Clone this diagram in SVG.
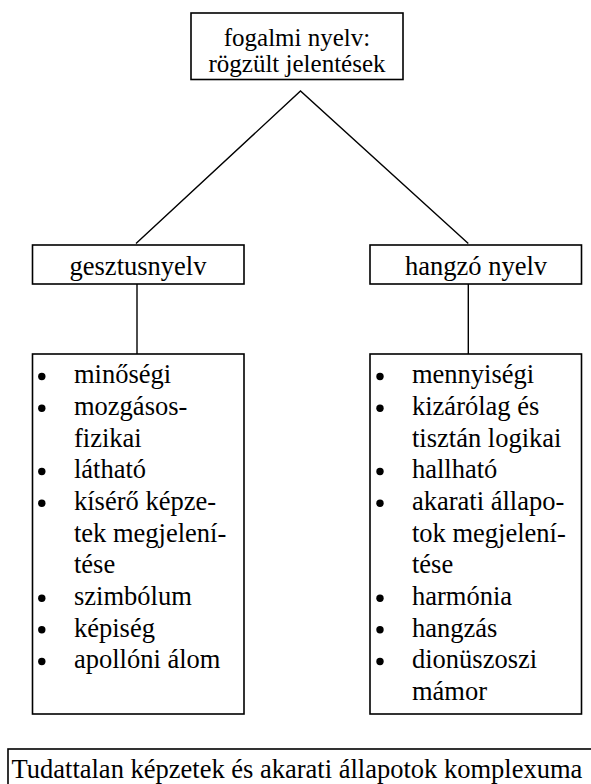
<svg xmlns="http://www.w3.org/2000/svg" width="591" height="784" viewBox="0 0 591 784">
<style>
.box{fill:#fff;stroke:#000;stroke-width:1.6}
.ln{fill:none;stroke:#000;stroke-width:1.4}
.b{fill:#000}
.t{font-family:"Liberation Serif","Times New Roman",serif;font-size:26.5px;fill:#000}
</style>
<rect width="591" height="784" fill="#fff"/>
<g id="connectors">
<polyline class="ln" points="136,243.5 300.5,91 468.3,243.5"/>
<line class="ln" x1="137" y1="284" x2="137" y2="354"/>
<line class="ln" x1="468.3" y1="284" x2="468.3" y2="354"/>
</g>
<g class="t">
<g id="top">
<rect class="box" x="191" y="13" width="212" height="66.5"/>
<text text-anchor="middle" x="297" y="46" font-size="25">fogalmi nyelv:</text>
<text text-anchor="middle" x="297" y="72" font-size="25">rögzült jelentések</text>
</g>
<g id="gesztusnyelv">
<rect class="box" x="32.5" y="245" width="211.5" height="39"/>
<text text-anchor="middle" x="138" y="275">gesztusnyelv</text>
</g>
<g id="hangzo">
<rect class="box" x="370" y="245" width="211.5" height="39"/>
<text text-anchor="middle" x="476" y="275">hangzó nyelv</text>
</g>
<g id="list-left">
<rect class="box" x="32.5" y="354" width="211.5" height="360"/>
<circle class="b" cx="41.8" cy="376.5" r="3.7"/>
<circle class="b" cx="41.8" cy="408.2" r="3.7"/>
<circle class="b" cx="41.8" cy="471.5" r="3.7"/>
<circle class="b" cx="41.8" cy="503.2" r="3.7"/>
<circle class="b" cx="41.8" cy="598.2" r="3.7"/>
<circle class="b" cx="41.8" cy="629.8" r="3.7"/>
<circle class="b" cx="41.8" cy="661.5" r="3.7"/>
<text x="74" y="383.3">minőségi</text>
<text x="74" y="415">mozgásos-</text>
<text x="74" y="446.7">fizikai</text>
<text x="74" y="478.3">látható</text>
<text x="74" y="510">kísérő képze-</text>
<text x="74" y="541.7">tek megjelení-</text>
<text x="74" y="573.3">tése</text>
<text x="74" y="605">szimbólum</text>
<text x="74" y="636.7">képiség</text>
<text x="74" y="668.3">apollóni álom</text>
</g>
<g id="list-right">
<rect class="box" x="370" y="354" width="211.5" height="360"/>
<circle class="b" cx="380" cy="376.5" r="3.7"/>
<circle class="b" cx="380" cy="408.2" r="3.7"/>
<circle class="b" cx="380" cy="471.5" r="3.7"/>
<circle class="b" cx="380" cy="503.2" r="3.7"/>
<circle class="b" cx="380" cy="598.2" r="3.7"/>
<circle class="b" cx="380" cy="629.8" r="3.7"/>
<circle class="b" cx="380" cy="661.5" r="3.7"/>
<text x="412" y="383.3">mennyiségi</text>
<text x="412" y="415">kizárólag és</text>
<text x="412" y="446.7">tisztán logikai</text>
<text x="412" y="478.3">hallható</text>
<text x="412" y="510">akarati állapo-</text>
<text x="412" y="541.7">tok megjelení-</text>
<text x="412" y="573.3">tése</text>
<text x="412" y="605">harmónia</text>
<text x="412" y="636.7">hangzás</text>
<text x="412" y="668.3">dionüszoszi</text>
<text x="412" y="700">mámor</text>
</g>
<g id="bottom">
<rect class="box" x="8" y="749" width="600" height="60"/>
<text x="11.5" y="778">Tudattalan képzetek és akarati állapotok komplexuma</text>
</g>
</g>
</svg>
